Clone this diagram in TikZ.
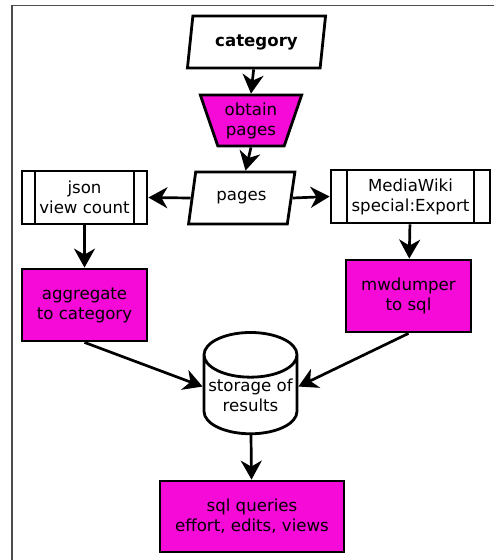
\documentclass[tikz,border=0pt]{standalone}
\usepackage{fontspec}
\setmainfont{DejaVu Sans}
\usetikzlibrary{shapes.geometric,arrows.meta}
\definecolor{procmagenta}{RGB}{245,10,215}

\begin{document}
\begin{tikzpicture}[x=1pt,y=-1pt,
        every node/.style={font=\fontsize{16.6}{20}\selectfont, align=center,
                           draw=black, line width=2.8pt},
        data/.style={trapezium, trapezium stretches, fill=white, inner sep=0pt},
        process/.style={rectangle, fill=procmagenta, inner sep=0pt},
        predef/.style={rectangle, fill=white, inner sep=0pt,
            path picture={\draw[line width=2.8pt]
                ([xshift=#1]path picture bounding box.north west) --
                ([xshift=#1]path picture bounding box.south west)
                ([xshift=-#1]path picture bounding box.north east) --
                ([xshift=-#1]path picture bounding box.south east);}},
        storage/.style={cylinder, shape border rotate=90, aspect=0.53,
                        fill=white, inner sep=0pt},
        flow/.style={-{Stealth[length=19pt,width=21pt,inset=6pt]}, line width=2.7pt}]
    \useasboundingbox (0,0) rectangle (494,560);
    % frame
    \draw[black!70, line width=1.5pt] (12,560) -- (12,5.5) -- (494,5.5);

    % inputs
    \node[data, trapezium left angle=77, trapezium right angle=103,
          minimum width=139pt, minimum height=52pt] (category) at (256.5,42) {\textbf{category}};
    \node[process, trapezium, trapezium stretches, trapezium left angle=111,
          trapezium right angle=111, minimum width=102pt, minimum height=51pt]
          (obtain) at (251,120.5) {obtain\\pages};
    \node[data, trapezium left angle=73, trapezium right angle=108,
          minimum width=107pt, minimum height=52pt] (pages) at (241.5,198) {pages};

    % two branches
    \node[predef=13pt, minimum width=125pt, minimum height=53pt] (json) at (84.5,197.5) {json\\view count};
    \node[predef=16pt, minimum width=159pt, minimum height=53pt] (export) at (410.5,196.5) {MediaWiki\\special:Export};
    \node[process, minimum width=125pt, minimum height=72pt] (aggregate) at (84.5,305) {aggregate\\to category};
    \node[process, minimum width=125pt, minimum height=72pt] (mwdumper) at (408.5,296) {mwdumper\\to sql};

    % results
    \node[storage, minimum width=93pt, minimum height=76pt] (results) at (250.5,395) {storage of\\results};
    \node[process, minimum width=184pt, minimum height=71pt] (queries) at (252,516.5) {sql queries\\effort, edits, views};

    \draw[flow] (category.bottom side) -- (obtain.top side);
    \draw[flow] (obtain.bottom side) -- (pages.top side);
    \draw[flow] (pages.left side) -- (json.east);
    \draw[flow] (pages.right side) -- (export.west);
    \draw[flow] (json) -- (aggregate);
    \draw[flow] (export) -- (mwdumper);
    \draw[flow] (aggregate.south) -- (results.170);
    \draw[flow] (mwdumper.south) -- (results.10);
    \draw[flow] (results) -- (queries);
\end{tikzpicture}
\end{document}
